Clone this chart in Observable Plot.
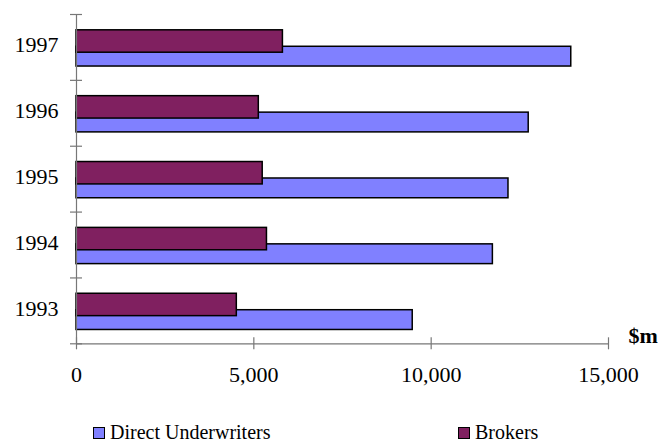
<!DOCTYPE html>
<html>
<head>
<meta charset="utf-8">
<script src="https://cdn.jsdelivr.net/npm/d3@7"></script>
<script src="https://cdn.jsdelivr.net/npm/@observablehq/plot@0.6"></script>
<style>
  body { margin: 0; background: #fff; font-family: "Liberation Serif", "Times New Roman", serif; }
  #wrap { position: relative; width: 658px; height: 443px; }
  #chart svg { display: block; }
  .lg { position: absolute; font-size: 20px; line-height: 20px; color: #000; white-space: nowrap; }
  .sw { position: absolute; width: 10px; height: 10px; border: 1.5px solid #000; }
</style>
</head>
<body>
<div id="wrap">
  <div id="chart"></div>
</div>
<script>
const years = [1993, 1994, 1995, 1996, 1997];
const directUnderwriters = [9480, 11740, 12180, 12750, 13950];
const brokers = [4520, 5370, 5250, 5140, 5820];
const xTicks = [0, 5000, 10000, 15000];
const seriesNames = ["Direct Underwriters", "Brokers"];
const seriesColors = ["#8080FF", "#802060"];
const unitLabel = "$m";

const rows = years.map((y, i) => ({ year: y, i, direct: directUnderwriters[i], brokers: brokers[i] }));
const bounds = d3.range(years.length + 1);
const centers = years.map((_, i) => i + 0.5);
const fmt = d3.format(",");

const chart = Plot.plot({
  width: 658,
  height: 395,
  marginTop: 14,
  marginBottom: 51.7,
  marginLeft: 76,
  marginRight: 50,
  style: { fontFamily: '"Liberation Serif", "Times New Roman", serif', background: "#fff", overflow: "visible" },
  x: { domain: [0, 15000] },
  y: { domain: [0, years.length] },
  marks: [
    Plot.rect(rows, { x1: 0, x2: "direct", y1: d => d.i + 0.21, y2: d => d.i + 0.51, fill: seriesColors[0], stroke: "#000", strokeWidth: 1.5 }),
    Plot.rect(rows, { x1: 0, x2: "brokers", y1: d => d.i + 0.42, y2: d => d.i + 0.76, fill: seriesColors[1], stroke: "#000", strokeWidth: 1.5 }),
    Plot.ruleX([0], { stroke: "#777", strokeWidth: 1.2 }),
    Plot.ruleY([0], { stroke: "#777", strokeWidth: 1.2 }),
    Plot.axisY({ ticks: bounds, tickSize: 12, dx: 6, tickFormat: () => "", stroke: "#777", strokeWidth: 1.2 }),
    Plot.axisY({ ticks: centers, tickSize: 0, tickPadding: 18, dy: -2, tickFormat: v => String(years[Math.floor(v)]), fontSize: 22, fill: "#000" }),
    Plot.axisX({ ticks: xTicks, tickSize: 12, dy: -6, tickFormat: () => "", stroke: "#777", strokeWidth: 1.2 }),
    Plot.axisX({ ticks: xTicks, tickSize: 0, tickPadding: 23, tickFormat: fmt, fontSize: 22, fill: "#000" }),
    Plot.text([unitLabel], { frameAnchor: "bottom-right", dx: 20, dy: -1, textAnchor: "start", fontWeight: "bold", fontSize: 22, fill: "#000" })
  ]
});
document.getElementById("chart").appendChild(chart);

const wrap = document.getElementById("wrap");
const legendPos = [
  { sx: 93, tx: 110 },
  { sx: 458, tx: 475 }
];
seriesNames.forEach((name, k) => {
  const sw = document.createElement("div");
  sw.className = "sw";
  sw.style.left = legendPos[k].sx + "px";
  sw.style.top = "427px";
  sw.style.background = seriesColors[k];
  wrap.appendChild(sw);
  const t = document.createElement("div");
  t.className = "lg";
  t.style.left = legendPos[k].tx + "px";
  t.style.top = "421.5px";
  t.textContent = name;
  wrap.appendChild(t);
});
</script>
</body>
</html>
